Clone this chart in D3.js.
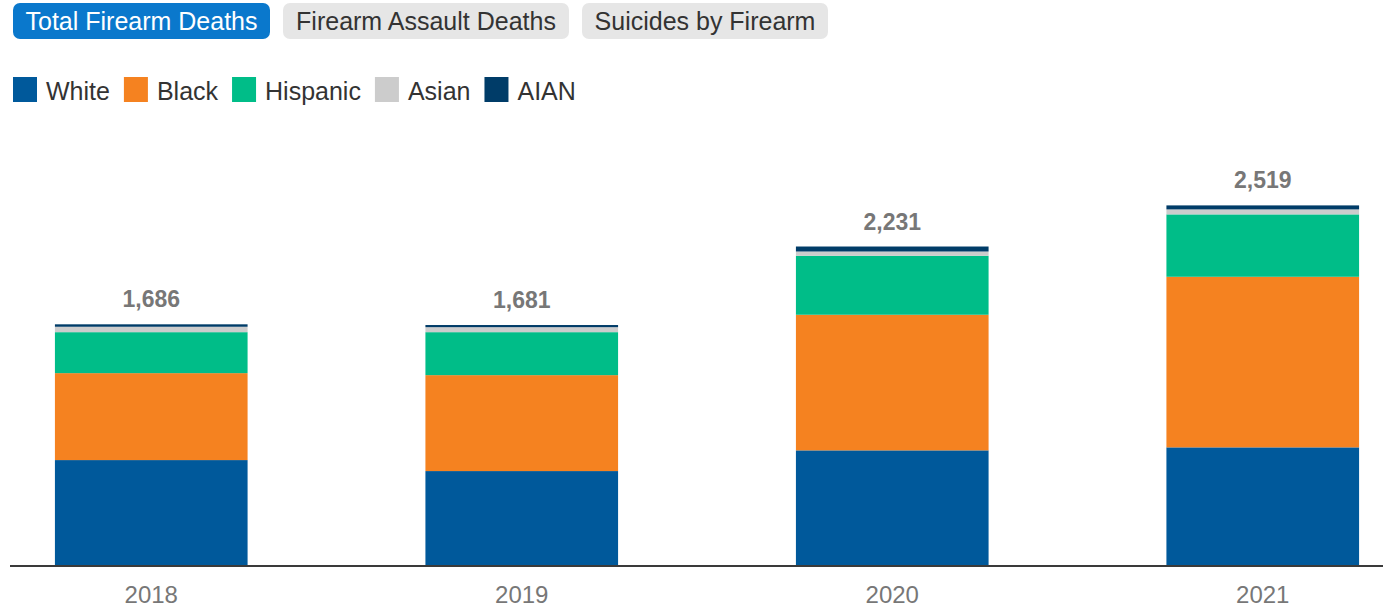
<!DOCTYPE html>
<html>
<head>
<meta charset="utf-8">
<script src="https://cdn.jsdelivr.net/npm/d3@7"></script>
<style>
  html, body { margin: 0; padding: 0; background: #fff; }
  svg { display: block; font-family: "Liberation Sans", Arial, Helvetica, sans-serif; }
</style>
</head>
<body>
<svg id="chart" width="1383" height="608"></svg>
<script>
// Firearm deaths among children and teens by race/ethnicity
const years = ["2018", "2019", "2020", "2021"];
const groups = ["White", "Black", "Hispanic", "Asian", "AIAN"];
const white    = [735, 658, 803, 824];
const black    = [609, 672, 950, 1195];
const hispanic = [287, 301, 413, 437];
const asian    = [38, 35, 30, 35];
const aian     = [17, 15, 35, 28];
const totals   = [1686, 1681, 2231, 2519];
const tabs = ["Total Firearm Deaths", "Firearm Assault Deaths", "Suicides by Firearm"];

const colors = {
  White: "#00599b",
  Black: "#f58220",
  Hispanic: "#00bd88",
  Asian: "#cccccc",
  AIAN: "#003c68"
};

const seriesValues = { White: white, Black: black, Hispanic: hispanic, Asian: asian, AIAN: aian };
const rows = years.map((y, i) => {
  const r = { year: y };
  groups.forEach(g => r[g] = seriesValues[g][i]);
  return r;
});

const svg = d3.select("#chart");

// Tab buttons
const tabX = [13, 283, 582];
const tabW = [257, 286, 246];
const tabG = svg.append("g");
tabs.forEach((t, i) => {
  const active = i === 0;
  tabG.append("rect")
    .attr("x", tabX[i]).attr("y", 3)
    .attr("width", tabW[i]).attr("height", 36)
    .attr("rx", 7)
    .attr("fill", active ? "#0a78cc" : "#e6e6e6");
  tabG.append("text")
    .attr("x", tabX[i] + tabW[i] / 2).attr("y", 30)
    .attr("text-anchor", "middle")
    .attr("font-size", 25)
    .attr("fill", active ? "#ffffff" : "#333333")
    .text(t);
});

// Legend
const legend = svg.append("g").attr("transform", "translate(13,77)");
let lx = 0;
groups.forEach(g => {
  const item = legend.append("g").attr("transform", `translate(${lx},0)`);
  item.append("rect").attr("width", 24).attr("height", 25).attr("fill", colors[g]);
  const txt = item.append("text")
    .attr("x", 33).attr("y", 23)
    .attr("font-size", 25)
    .attr("fill", "#333333")
    .text(g);
  lx += 33 + txt.node().getComputedTextLength() + 14;
});

// Scales
const baseline = 565;
const x = d3.scaleBand().domain(years).range([-34, 1448]).paddingInner(0.48).paddingOuter(0.24);
const y = d3.scaleLinear().domain([0, 2519]).range([baseline, 205.4]);

const stack = d3.stack().keys(groups);
const stacked = stack(rows);

svg.append("g")
  .selectAll("g")
  .data(stacked)
  .join("g")
  .attr("fill", d => colors[d.key])
  .selectAll("rect")
  .data(d => d)
  .join("rect")
  .attr("x", d => x(d.data.year))
  .attr("width", x.bandwidth())
  .attr("y", d => y(d[1]))
  .attr("height", d => y(d[0]) - y(d[1]));

// Total labels
svg.append("g")
  .selectAll("text")
  .data(years)
  .join("text")
  .attr("x", d => x(d) + x.bandwidth() / 2)
  .attr("y", (d, i) => y(totals[i]) - 17)
  .attr("text-anchor", "middle")
  .attr("font-size", 23)
  .attr("font-weight", "bold")
  .attr("fill", "#777777")
  .text((d, i) => d3.format(",")(totals[i]));

// X axis
const xAxis = svg.append("g")
  .attr("transform", `translate(0,${baseline})`)
  .call(d3.axisBottom(x).tickSize(0).tickPadding(21));
xAxis.select(".domain").remove();
xAxis.selectAll("text")
  .attr("font-size", 24)
  .attr("fill", "#777777")
  .attr("font-family", "Liberation Sans, Arial, sans-serif");
svg.append("line")
  .attr("x1", 10).attr("x2", 1383)
  .attr("y1", baseline + 1).attr("y2", baseline + 1)
  .attr("stroke", "#3a3a3a")
  .attr("stroke-width", 2);
</script>
</body>
</html>
